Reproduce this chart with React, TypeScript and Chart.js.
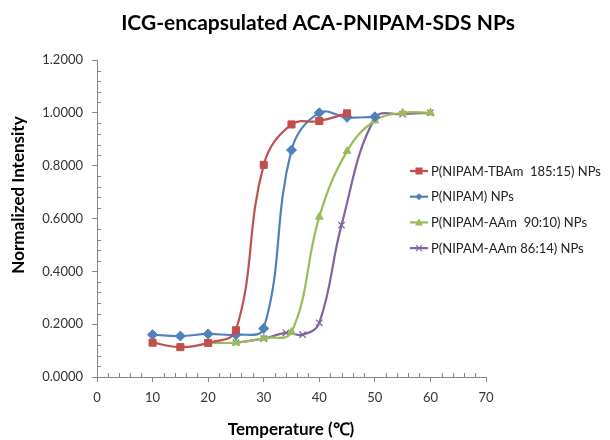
import React, { useEffect, useRef } from "react";
import { Chart, registerables } from "chart.js";

Chart.register(...registerables);

// ---- data ----
const seriesLabels = [
  "P(NIPAM-TBAm  185:15) NPs",
  "P(NIPAM) NPs",
  "P(NIPAM-AAm  90:10) NPs",
  "P(NIPAM-AAm 86:14) NPs",
];
const tbamTemps = [10, 15, 20, 25, 30, 35, 40, 45];
const tbamValues = [0.13, 0.113, 0.129, 0.177, 0.803, 0.956, 0.969, 0.998];
const nipamTemps = [10, 15, 20, 25, 30, 35, 40, 45, 50];
const nipamValues = [0.16, 0.155, 0.163, 0.16, 0.184, 0.859, 1.0, 0.983, 0.985];
const aam10Temps = [20, 25, 30, 35, 40, 45, 50, 55, 60];
const aam10Values = [0.13, 0.13, 0.147, 0.17, 0.606, 0.855, 0.97, 1.0, 1.0];
const aam14Temps = [25, 30, 34, 37, 40, 44, 50, 55, 60];
const aam14Values = [0.13, 0.145, 0.167, 0.16, 0.205, 0.575, 0.98, 0.995, 1.0];

const xMin = 0, xMax = 70, xStep = 10, xMinorStep = 2;
const yMin = 0, yMax = 1.2, yStep = 0.2, yMinorStep = 0.04;

const titleText = "ICG-encapsulated ACA-PNIPAM-SDS NPs";
const xTitleText = "Temperature (\u2103)";
const yTitleText = "Normalized Intensity";

const colors = ["#C0504D", "#4F81BD", "#9BBB59", "#8064A2"];
const markers = ["rect", "rectRot", "triangle", "crossRot"];
const FONT = "Lato, 'Open Sans', sans-serif";

function drawMarker(ctx: CanvasRenderingContext2D, style: string, x: number, y: number, color: string) {
  ctx.save();
  ctx.fillStyle = color;
  ctx.strokeStyle = color;
  ctx.lineWidth = 1.2;
  ctx.beginPath();
  if (style === "rect") {
    ctx.rect(x - 3.5, y - 3.5, 7, 7);
    ctx.fill();
  } else if (style === "rectRot") {
    ctx.moveTo(x, y - 3.5);
    ctx.lineTo(x + 3.5, y);
    ctx.lineTo(x, y + 3.5);
    ctx.lineTo(x - 3.5, y);
    ctx.closePath();
    ctx.fill();
  } else if (style === "triangle") {
    ctx.moveTo(x, y - 4);
    ctx.lineTo(x + 4, y + 3);
    ctx.lineTo(x - 4, y + 3);
    ctx.closePath();
    ctx.fill();
  } else {
    ctx.moveTo(x - 3, y - 3);
    ctx.lineTo(x + 3, y + 3);
    ctx.moveTo(x + 3, y - 3);
    ctx.lineTo(x - 3, y + 3);
    ctx.stroke();
  }
  ctx.restore();
}

const decorPlugin = {
  id: "decor",
  afterDraw(chart: any) {
    const ctx: CanvasRenderingContext2D = chart.ctx;
    const xs = chart.scales.x;
    const ys = chart.scales.y;
    const area = chart.chartArea;
    ctx.save();
    // minor ticks (inside)
    ctx.strokeStyle = "#868686";
    ctx.lineWidth = 1;
    ctx.beginPath();
    for (let i = 0; i <= Math.round((xMax - xMin) / xMinorStep); i++) {
      const v = xMin + i * xMinorStep;
      if (Math.abs(v / xStep - Math.round(v / xStep)) < 1e-6) continue;
      const px = Math.round(xs.getPixelForValue(v)) + 0.5;
      ctx.moveTo(px, area.bottom);
      ctx.lineTo(px, area.bottom - 4);
    }
    for (let i = 0; i <= Math.round((yMax - yMin) / yMinorStep); i++) {
      const v = yMin + i * yMinorStep;
      if (Math.abs(v / yStep - Math.round(v / yStep)) < 1e-6) continue;
      const py = Math.round(ys.getPixelForValue(v)) + 0.5;
      ctx.moveTo(area.left, py);
      ctx.lineTo(area.left + 4, py);
    }
    ctx.stroke();

    // title
    ctx.fillStyle = "#000";
    ctx.textAlign = "center";
    ctx.textBaseline = "middle";
    ctx.font = `bold 21px ${FONT}`;
    ctx.fillText(titleText, 318, 23);

    // axis titles
    ctx.font = `bold 17px ${FONT}`;
    ctx.fillText(xTitleText, 291, 430);
    ctx.save();
    ctx.translate(19, 195);
    ctx.rotate(-Math.PI / 2);
    ctx.fillText(yTitleText, 0, 0);
    ctx.restore();

    // legend
    ctx.font = `13px ${FONT}`;
    ctx.textAlign = "left";
    for (let i = 0; i < seriesLabels.length; i++) {
      const y = 171 + i * 25.7;
      ctx.strokeStyle = colors[i];
      ctx.lineWidth = 2.2;
      ctx.beginPath();
      ctx.moveTo(410, y);
      ctx.lineTo(428, y);
      ctx.stroke();
      drawMarker(ctx, markers[i], 419, y, colors[i]);
      ctx.fillStyle = "#222";
      ctx.fillText(seriesLabels[i], 431, y + 0.5);
    }
    ctx.restore();
  },
};

function toPoints(xs: number[], ys: number[]) {
  return xs.map((x, i) => ({ x, y: ys[i] }));
}

export default function App() {
  const ref = useRef<HTMLCanvasElement | null>(null);
  useEffect(() => {
    if (!ref.current) return;
    const series = [
      toPoints(tbamTemps, tbamValues),
      toPoints(nipamTemps, nipamValues),
      toPoints(aam10Temps, aam10Values),
      toPoints(aam14Temps, aam14Values),
    ];
    const radii = [5, 5, 4.5, 4.5];
    const chart = new Chart(ref.current, {
      type: "line",
      data: {
        datasets: series.map((d, i) => ({
          label: seriesLabels[i],
          data: d,
          borderColor: colors[i],
          backgroundColor: colors[i],
          borderWidth: 2.2,
          pointStyle: markers[i] as any,
          pointRadius: radii[i],
          pointBorderWidth: i === 3 ? 1.3 : 1,
          pointBorderColor: colors[i],
          pointBackgroundColor: colors[i],
          tension: 0.4,
          fill: false,
        })),
      },
      plugins: [decorPlugin],
      options: {
        responsive: false,
        animation: false,
        layout: { padding: { top: 60, right: 124, left: 0, bottom: 0 } },
        plugins: {
          legend: { display: false },
          title: { display: false },
          tooltip: { enabled: false },
        },
        scales: {
          x: {
            type: "linear",
            min: xMin,
            max: xMax,
            ticks: { stepSize: xStep, color: "#333", font: { family: FONT, size: 13 }, padding: 8, maxRotation: 0 },
            grid: { display: true, drawOnChartArea: false, drawTicks: true, tickLength: 5, color: "#868686" },
            border: { display: true, color: "#868686", width: 1 },
            afterFit: (s: any) => { s.height = 63; },
          },
          y: {
            min: yMin,
            max: yMax,
            ticks: {
              stepSize: yStep,
              color: "#333",
              font: { family: FONT, size: 13 },
              padding: 9,
              callback: (v: any) => Number(v).toFixed(4),
            },
            grid: { display: true, drawOnChartArea: false, drawTicks: true, tickLength: 5, color: "#868686" },
            border: { display: true, color: "#868686", width: 1 },
            afterFit: (s: any) => { s.width = 97; },
          },
        },
      },
    });
    return () => chart.destroy();
  }, []);
  return (
    <div style={{ position: "absolute", left: 0, top: 0, width: 610, height: 440, background: "#fff" }}>
      <canvas ref={ref} width={610} height={440} />
    </div>
  );
}
